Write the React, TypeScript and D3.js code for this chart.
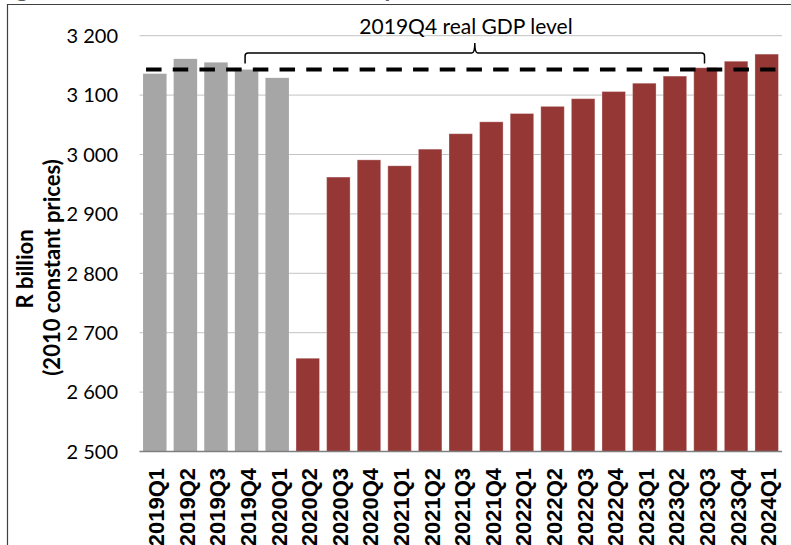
import React from "react";
import * as d3 from "d3";

const categories = [
  "2019Q1", "2019Q2", "2019Q3", "2019Q4", "2020Q1", "2020Q2", "2020Q3",
  "2020Q4", "2021Q1", "2021Q2", "2021Q3", "2021Q4", "2022Q1", "2022Q2",
  "2022Q3", "2022Q4", "2023Q1", "2023Q2", "2023Q3", "2023Q4", "2024Q1",
];
const gdpValues = [
  3136, 3161, 3155, 3143, 3129, 2657, 2962, 2991, 2981, 3009, 3035,
  3055, 3069, 3081, 3094, 3106, 3120, 3132, 3146, 3157, 3169,
];
const seriesKind = [
  "actual", "actual", "actual", "actual", "actual",
  "projection", "projection", "projection", "projection", "projection", "projection",
  "projection", "projection", "projection", "projection", "projection", "projection",
  "projection", "projection", "projection", "projection",
];
const yTicks = [2500, 2600, 2700, 2800, 2900, 3000, 3100, 3200];
const referenceLevel = 3143;
const referenceLabel = "2019Q4 real GDP level";
const bracketFrom = "2019Q4";
const bracketTo = "2023Q3";
const yTitleLines = ["R billion", "(2010 constant prices)"];
const figureTitle = "Figure 2: Real GDP level and recovery";

const W = 791;
const H = 545;
const plotLeft = 139.5;
const plotRight = 782;
const yBottom = 451.5;
const yTop = 35.7;

const COLORS: Record<string, string> = {
  actual: "#A6A6A6",
  projection: "#953735",
};

const fmt = (v: number) => d3.format(",")(v).replace(",", " ");

export default function App() {
  const x = d3
    .scaleBand<string>()
    .domain(categories)
    .range([plotLeft, plotRight])
    .paddingInner(0.232)
    .paddingOuter(0.116);
  const y = d3.scaleLinear().domain([2500, 3200]).range([yBottom, yTop]);
  const bw = x.bandwidth();

  const xl = (x(bracketFrom) as number) + bw / 2 - 1.5;
  const xr = (x(bracketTo) as number) + bw / 2 - 1;
  const xm = (xl + xr) / 2;
  const yb = 53;
  const yEnd = 63.5;
  const yPeak = 43;
  const bracket = [
    `M${xl},${yEnd}`,
    `L${xl},${yb + 3}`,
    `Q${xl},${yb} ${xl + 3},${yb}`,
    `L${xm - 3},${yb}`,
    `Q${xm},${yb} ${xm},${yPeak}`,
    `Q${xm},${yb} ${xm + 3},${yb}`,
    `L${xr - 3},${yb}`,
    `Q${xr},${yb} ${xr},${yb + 3}`,
    `L${xr},${yEnd}`,
  ].join(" ");

  const dashX1 = (x(categories[0]) as number) + 3;
  const dashX2 = (x(categories[categories.length - 1]) as number) + bw - 3;

  return (
    <svg
      width={W}
      height={H}
      style={{ position: "absolute", left: 0, top: 0, background: "#fff" }}
    >
      <rect x={0} y={0} width={W} height={H} fill="#fff" />
      <text
        x={-4}
        y={-3}
        fontFamily="Lato"
        fontWeight="bold"
        fontSize={24}
        fill="#595959"
      >
        {figureTitle}
      </text>
      <path d={`M7.5,${H + 2} V4.5 H${W + 2}`} fill="none" stroke="#404040" strokeWidth={1.2} />

      {yTicks
        .filter((t) => t !== 2500)
        .map((t) => (
          <line
            key={"g" + t}
            x1={plotLeft}
            x2={plotRight}
            y1={y(t)}
            y2={y(t)}
            stroke="#c3c3c3"
            strokeWidth={1}
          />
        ))}

      {categories.map((c, i) => (
        <rect
          key={c}
          x={x(c)}
          y={y(gdpValues[i])}
          width={bw}
          height={yBottom - y(gdpValues[i])}
          fill={COLORS[seriesKind[i]]}
          stroke={seriesKind[i] === "projection" ? "rgba(255,255,255,0.3)" : "none"}
          strokeWidth={1}
        />
      ))}

      <line x1={plotLeft} x2={plotRight} y1={yBottom} y2={yBottom} stroke="#7f7f7f" strokeWidth={1.5} />

      {yTicks.map((t) => (
        <text
          key={"t" + t}
          x={118}
          y={y(t)}
          dy="0.36em"
          textAnchor="end"
          fontFamily="Lato"
          fontSize={20}
          fill="#000"
        >
          {fmt(t)}
        </text>
      ))}

      {categories.map((c) => (
        <text
          key={"x" + c}
          transform={`translate(${(x(c) as number) + bw / 2 + 1.5},468) rotate(-90)`}
          dy="0.36em"
          textAnchor="end"
          fontFamily="Liberation Sans"
          fontWeight="bold"
          fontSize={22}
          fill="#000"
        >
          {c}
        </text>
      ))}

      <text
        transform="translate(33,269) rotate(-90)"
        textAnchor="middle"
        fontFamily="Lato"
        fontWeight="bold"
        fontSize={22}
        fill="#000"
      >
        {yTitleLines[0]}
      </text>
      <text
        transform="translate(60,267.5) rotate(-90)"
        textAnchor="middle"
        fontFamily="Lato"
        fontWeight="bold"
        fontSize={22}
        fill="#000"
      >
        {yTitleLines[1]}
      </text>

      <line
        x1={dashX1}
        x2={dashX2}
        y1={y(referenceLevel)}
        y2={y(referenceLevel)}
        stroke="#000"
        strokeWidth={4}
        strokeDasharray="15.5 11.2"
      />

      <path d={bracket} fill="none" stroke="#000" strokeWidth={1.5} />
      <text
        x={466}
        y={34}
        textAnchor="middle"
        fontFamily="Lato"
        fontSize={21}
        fill="#000"
      >
        {referenceLabel}
      </text>
    </svg>
  );
}
